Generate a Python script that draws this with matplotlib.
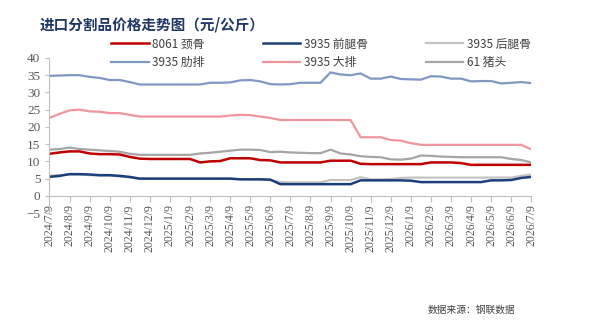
import numpy as np
import matplotlib.pyplot as plt

# tick labels in a serif face, CJK text names its own family
plt.rcParams['font.family'] = ['Liberation Serif', 'Noto Sans CJK SC']
cjk = ['Noto Sans CJK SC', 'DejaVu Sans']

# semi-monthly readings, 2024/7/9 .. 2026/7/9 (x in months)
months = np.arange(49) * 0.5

jinggu = [12.2, 12.6, 12.9, 12.9, 12.3, 12.1, 12.1, 12.0, 11.3, 10.8,
          10.7, 10.7, 10.7, 10.7, 10.7, 9.7, 10.0, 10.1, 10.9, 10.9,
          10.9, 10.4, 10.3, 9.7, 9.7, 9.7, 9.7, 9.7, 10.2, 10.2,
          10.2, 9.3, 9.2, 9.2, 9.2, 9.2, 9.2, 9.2, 9.7, 9.7,
          9.7, 9.5, 9.0, 9.0, 9.0, 9.0, 9.0, 9.0, 9.0]
qiantuigu = [5.5, 5.8, 6.3, 6.3, 6.2, 6.0, 6.0, 5.8, 5.5, 5.0,
             5.0, 5.0, 5.0, 5.0, 5.0, 5.0, 5.0, 5.0, 5.0, 4.8,
             4.8, 4.8, 4.7, 3.4, 3.4, 3.4, 3.4, 3.4, 3.4, 3.4,
             3.4, 4.5, 4.5, 4.5, 4.5, 4.5, 4.4, 4.0, 4.0, 4.0,
             4.0, 4.0, 4.0, 4.0, 4.5, 4.5, 4.6, 5.2, 5.5]
houtuigu = [5.9, 6.0, 6.2, 6.2, 6.0, 5.9, 5.9, 5.6, 5.3, 5.0,
            5.0, 5.0, 5.0, 5.0, 5.0, 5.0, 5.0, 5.0, 5.0, 4.8,
            4.8, 4.7, 4.6, 4.0, 3.9, 3.9, 3.9, 3.9, 4.6, 4.6,
            4.6, 5.4, 4.8, 4.8, 4.9, 5.2, 5.3, 5.3, 5.3, 5.3,
            5.3, 5.3, 5.3, 5.3, 5.3, 5.3, 5.3, 5.8, 6.2]
leipai = [34.8, 34.9, 35.0, 35.0, 34.5, 34.2, 33.6, 33.6, 33.0, 32.3,
          32.3, 32.3, 32.3, 32.3, 32.3, 32.3, 32.8, 32.8, 32.9, 33.5,
          33.6, 33.2, 32.4, 32.3, 32.4, 32.8, 32.8, 32.8, 35.8, 35.2,
          35.0, 35.5, 34.0, 34.0, 34.6, 33.9, 33.8, 33.7, 34.7, 34.6,
          34.0, 34.0, 33.2, 33.3, 33.3, 32.6, 32.8, 33.0, 32.7]
dapai = [22.6, 23.8, 24.8, 25.0, 24.5, 24.4, 24.0, 24.0, 23.5, 23.0,
         23.0, 23.0, 23.0, 23.0, 23.0, 23.0, 23.0, 23.0, 23.3, 23.5,
         23.4, 23.0, 22.6, 22.0, 22.0, 22.0, 22.0, 22.0, 22.0, 22.0,
         22.0, 17.0, 17.0, 17.0, 16.2, 16.0, 15.3, 14.8, 14.8, 14.8,
         14.8, 14.8, 14.8, 14.8, 14.8, 14.8, 14.8, 14.8, 13.5]
zhutou = [13.4, 13.6, 14.0, 13.6, 13.4, 13.2, 13.0, 12.8, 12.2, 11.9,
          11.9, 11.9, 11.9, 11.9, 11.9, 12.3, 12.5, 12.8, 13.1, 13.4,
          13.4, 13.3, 12.7, 12.8, 12.6, 12.5, 12.4, 12.4, 13.4, 12.3,
          12.0, 11.5, 11.3, 11.2, 10.6, 10.5, 10.8, 11.7, 11.6, 11.4,
          11.3, 11.2, 11.2, 11.2, 11.2, 11.2, 10.7, 10.4, 9.7]

xlabels = ['2024/7/9', '2024/8/9', '2024/9/9', '2024/10/9', '2024/11/9',
           '2024/12/9', '2025/1/9', '2025/2/9', '2025/3/9', '2025/4/9',
           '2025/5/9', '2025/6/9', '2025/7/9', '2025/8/9', '2025/9/9',
           '2025/10/9', '2025/11/9', '2025/12/9', '2026/1/9', '2026/2/9',
           '2026/3/9', '2026/4/9', '2026/5/9', '2026/6/9', '2026/7/9']

fig = plt.figure(figsize=(5.89, 3.33), dpi=100)
ax = fig.add_axes([0.084, 0.36, 0.818, 0.466])

l_rib, = ax.plot(months, leipai, color='#7F97C2', lw=1.6, label='3935 肋排')
l_big, = ax.plot(months, dapai, color='#F0959E', lw=1.6, label='3935 大排')
l_head, = ax.plot(months, zhutou, color='#A5A5A5', lw=1.6, label='61 猪头')
l_hind, = ax.plot(months, houtuigu, color='#C3C3C3', lw=1.6, label='3935 后腿骨')
l_neck, = ax.plot(months, jinggu, color='#C00000', lw=1.8, label='8061 颈骨')
l_fore, = ax.plot(months, qiantuigu, color='#1B3F7A', lw=1.8, label='3935 前腿骨')

ax.set_xlim(0, 24)
ax.set_ylim(-5, 40)
ax.tick_params(axis='y', labelsize=9.5, labelcolor='#595959', length=3, color='#BFBFBF')
ax.tick_params(axis='x', labelsize=8.5, labelcolor='#595959', length=4,
               color='#BFBFBF', pad=2, labelrotation=90)
ax.set_yticks(range(-5, 41, 5))
ax.set_xticks(range(25))
ax.set_xticklabels(xlabels)

ax.spines['bottom'].set_position(('data', 0))
ax.spines['bottom'].set_color('#BFBFBF')
ax.spines['left'].set_color('#BFBFBF')
ax.spines['top'].set_visible(False)
ax.spines['right'].set_visible(False)

handles = [l_neck, l_rib, l_fore, l_big, l_hind, l_head]
fig.legend(handles, [h.get_label() for h in handles], ncol=3, frameon=False,
           loc='center', bbox_to_anchor=(0.545, 0.84),
           prop={'family': cjk, 'size': 8.5},
           labelcolor='#404040', handlelength=3.2, columnspacing=4.9,
           handletextpad=0.3, labelspacing=0.45)

fig.text(0.068, 0.925, '进口分割品价格走势图（元/公斤）', fontsize=10.5,
         fontweight='bold', color='#1F3864', va='center', family=cjk)
fig.text(0.875, 0.07, '数据来源：钢联数据', fontsize=7, style='italic',
         color='#404040', ha='right', va='center', family=cjk)

fig.savefig('out.png', dpi=100, facecolor='white')
